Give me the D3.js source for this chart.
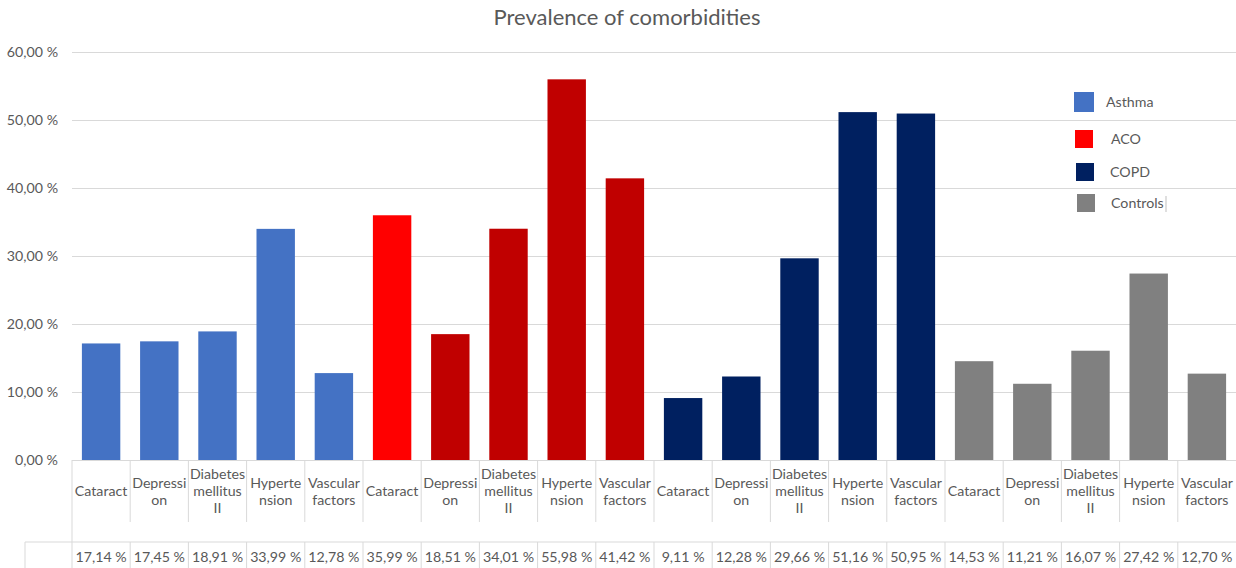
<!DOCTYPE html>
<html>
<head>
<meta charset="utf-8">
<script src="https://cdn.jsdelivr.net/npm/d3@7"></script>
<style>
  body { margin: 0; background: #fff; }
  text { font-family: Lato, "Open Sans", "Noto Sans", sans-serif; }
</style>
</head>
<body>
<div id="chart"></div>
<script>
// groups and their comorbidities, in the order drawn
const groups = ['Asthma', 'ACO', 'COPD', 'Controls'];
const conditions = ['Cataract', 'Depression', 'Diabetes mellitus II', 'Hypertension', 'Vascular factors'];
// the table cells break the words where Excel did
const conditionLines = [['Cataract'], ['Depressi', 'on'], ['Diabetes', 'mellitus', 'II'], ['Hyperte', 'nsion'], ['Vascular', 'factors']];

const asthma = [17.14, 17.45, 18.91, 33.99, 12.78];
const aco = [35.99, 18.51, 34.01, 55.98, 41.42];
const copd = [9.11, 12.28, 29.66, 51.16, 50.95];
const controls = [14.53, 11.21, 16.07, 27.42, 12.70];

const yTicks = [0, 10, 20, 30, 40, 50, 60];

const groupColors = { Asthma: '#4472C4', ACO: '#C00000', COPD: '#002060', Controls: '#808080' };
const legendColors = { Asthma: '#4472C4', ACO: '#FF0000', COPD: '#002060', Controls: '#808080' };

// flatten into one row per bar
const seriesByGroup = { Asthma: asthma, ACO: aco, COPD: copd, Controls: controls };
const data = [];
groups.forEach(function (g) {
  conditions.forEach(function (c, i) {
    data.push({ key: g + '|' + c, group: g, idx: i, value: seriesByGroup[g][i] });
  });
});

const width = 1236;
const height = 568;
const margin = { top: 52, right: 0, bottom: 108, left: 72 };
const textColor = '#595959';
const gridColor = '#d9d9d9';
const fontSize = '14.2px';

const svg = d3.select('#chart')
  .append('svg')
  .attr('width', width)
  .attr('height', height);

const x = d3.scaleBand()
  .domain(data.map(d => d.key))
  .range([margin.left, width - margin.right])
  .paddingInner(0.34)
  .paddingOuter(0.17);

const y = d3.scaleLinear()
  .domain([0, 60])
  .range([height - margin.bottom, margin.top]);

const fmt = v => d3.format('.2f')(v).replace('.', ',') + ' %';

// title
svg.append('text')
  .attr('x', 627)
  .attr('y', 25)
  .attr('text-anchor', 'middle')
  .attr('font-size', '22px')
  .attr('fill', textColor)
  .text('Prevalence of comorbidities');

// grid lines + y labels
const yAxis = svg.append('g')
  .attr('transform', `translate(${margin.left},0)`)
  .call(d3.axisLeft(y).tickValues(yTicks).tickSize(-(width - margin.left - margin.right)).tickPadding(14).tickFormat(fmt));
yAxis.select('.domain').remove();
yAxis.selectAll('.tick line').attr('stroke', gridColor);
yAxis.selectAll('.tick text')
  .attr('fill', textColor)
  .attr('font-size', fontSize);

// bars
svg.append('g')
  .selectAll('rect')
  .data(data)
  .join('rect')
  .attr('x', d => x(d.key))
  .attr('y', d => y(d.value))
  .attr('width', x.bandwidth())
  .attr('height', d => y(0) - y(d.value))
  .attr('fill', d => (d.group === 'ACO' && d.idx === 0) ? '#FF0000' : groupColors[d.group]);

// data table under the chart
const y0 = y(0);
const labelRowBottom = 522;
const valueRowTop = 542;
const table = svg.append('g');

table.append('line')
  .attr('x1', 25).attr('x2', width)
  .attr('y1', valueRowTop).attr('y2', valueRowTop)
  .attr('stroke', gridColor);

table.append('line')
  .attr('x1', 25).attr('x2', 25)
  .attr('y1', valueRowTop).attr('y2', height)
  .attr('stroke', gridColor);

data.forEach(function (d, i) {
  const left = x(d.key) - x.step() * x.paddingInner() / 2;
  const cx = x(d.key) + x.bandwidth() / 2;

  // column separators
  table.append('line')
    .attr('x1', left).attr('x2', left)
    .attr('y1', y0).attr('y2', i === 0 ? height : labelRowBottom)
    .attr('stroke', gridColor);
  if (i > 0) {
    table.append('line')
      .attr('x1', left).attr('x2', left)
      .attr('y1', valueRowTop).attr('y2', height)
      .attr('stroke', gridColor);
  }

  const lines = conditionLines[d.idx];
  const centerY = 496;
  lines.forEach(function (t, k) {
    table.append('text')
      .attr('x', cx)
      .attr('y', centerY + (k - (lines.length - 1) / 2) * 17)
      .attr('text-anchor', 'middle')
      .attr('font-size', fontSize)
      .attr('fill', textColor)
      .text(t);
  });

  table.append('text')
    .attr('x', cx)
    .attr('y', 562)
    .attr('text-anchor', 'middle')
    .attr('font-size', fontSize)
    .attr('fill', textColor)
    .text(fmt(d.value));
});

// legend, placed by hand as in the original
const legendPos = [
  { g: 'Asthma', sx: 1074, sy: 92, s: 20, tx: 1106 },
  { g: 'ACO', sx: 1075, sy: 130, s: 18, tx: 1111 },
  { g: 'COPD', sx: 1076, sy: 163, s: 18, tx: 1110 },
  { g: 'Controls', sx: 1077, sy: 194, s: 18, tx: 1111 }
];
const legend = svg.append('g');
legend.selectAll('rect')
  .data(legendPos)
  .join('rect')
  .attr('x', d => d.sx)
  .attr('y', d => d.sy)
  .attr('width', d => d.s)
  .attr('height', d => d.s)
  .attr('fill', d => legendColors[d.g]);
legend.selectAll('text')
  .data(legendPos)
  .join('text')
  .attr('x', d => d.tx)
  .attr('y', d => d.sy + d.s / 2 + 5)
  .attr('font-size', fontSize)
  .attr('fill', textColor)
  .text(d => d.g);
legend.append('line')
  .attr('x1', 1166).attr('x2', 1166)
  .attr('y1', 196).attr('y2', 212)
  .attr('stroke', '#bfbfbf');
</script>
</body>
</html>
